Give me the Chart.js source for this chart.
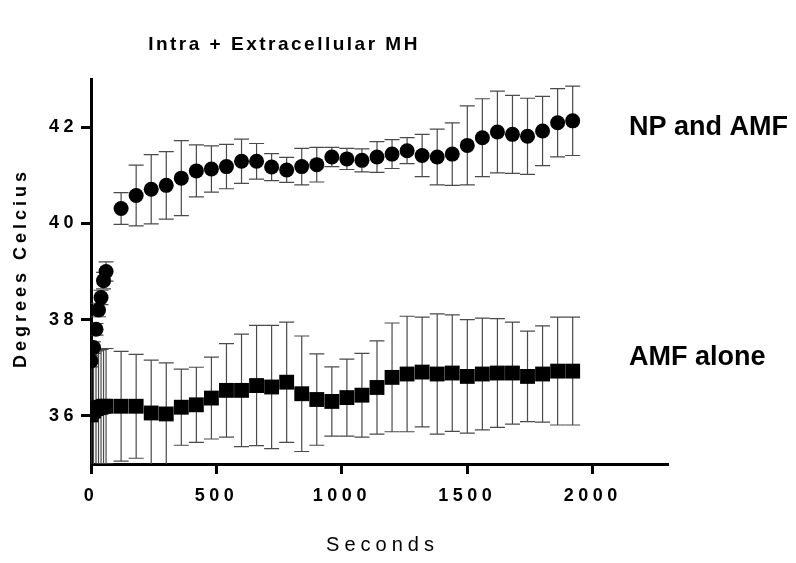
<!DOCTYPE html>
<html>
<head>
<meta charset="utf-8">
<script src="https://cdn.jsdelivr.net/npm/chart.js@4.4.1/dist/chart.umd.min.js"></script>
<style>
  html, body { margin: 0; padding: 0; background: #fff; }
</style>
</head>
<body>
<canvas id="myChart" width="796" height="563"></canvas>
<script>
// time points (s), shared by both groups
var seconds = [0, 10, 20, 30, 40, 50, 60, 120, 180, 240, 300, 360, 420, 480, 540, 600,
  660, 720, 780, 840, 900, 960, 1020, 1080, 1140, 1200, 1260, 1320, 1380, 1440, 1500,
  1560, 1620, 1680, 1740, 1800, 1860, 1920];

// NP and AMF (circles)
var npMean = [37.14, 37.42, 37.80, 38.20, 38.46, 38.81, 39.00, 40.31, 40.58, 40.71, 40.79,
  40.94, 41.09, 41.13, 41.18, 41.29, 41.29, 41.17, 41.11, 41.18, 41.22, 41.38, 41.34,
  41.31, 41.38, 41.44, 41.51, 41.41, 41.38, 41.44, 41.62, 41.78, 41.90, 41.85, 41.81,
  41.92, 42.09, 42.13];
var npErr = [0.12, 0.12, 0.12, 0.14, 0.15, 0.17, 0.2, 0.33, 0.63, 0.72, 0.7, 0.78, 0.54,
  0.48, 0.46, 0.46, 0.37, 0.28, 0.26, 0.38, 0.36, 0.2, 0.22, 0.24, 0.32, 0.3, 0.27, 0.44,
  0.58, 0.65, 0.82, 0.81, 0.85, 0.81, 0.79, 0.72, 0.71, 0.72];

// AMF alone (squares)
var amfMean = [36.02, 36.10, 36.15, 36.17, 36.18, 36.20, 36.20, 36.20, 36.20, 36.06, 36.04,
  36.18, 36.23, 36.37, 36.53, 36.53, 36.63, 36.60, 36.70, 36.46, 36.34, 36.30, 36.38,
  36.43, 36.59, 36.80, 36.87, 36.91, 36.87, 36.89, 36.82, 36.87, 36.89, 36.89, 36.82,
  36.87, 36.93, 36.93];
var amfErr = [1.2, 1.2, 1.2, 1.2, 1.2, 1.2, 1.2, 1.14, 1.08, 1.1, 1.06, 0.79, 0.78, 0.85,
  0.97, 1.17, 1.25, 1.28, 1.25, 1.2, 0.95, 0.72, 0.8, 0.87, 0.97, 1.13, 1.2, 1.14, 1.25,
  1.21, 1.18, 1.16, 1.13, 1.06, 0.94, 1.0, 1.12, 1.12];

var xTicks = [0, 500, 1000, 1500, 2000];
var yTicks = [36, 38, 40, 42];

function toPoints(xs, ys) {
  return xs.map(function (x, i) { return { x: x, y: ys[i] }; });
}

var errorBars = {
  id: 'errorBars',
  beforeDatasetsDraw: function (chart) {
    var c = chart.ctx, a = chart.chartArea;
    var xs = chart.scales.x, ys = chart.scales.y;
    c.save();
    c.beginPath();
    c.rect(a.left, a.top, a.right - a.left, a.bottom - a.top);
    c.clip();
    c.strokeStyle = '#4a4a4a';
    c.lineWidth = 1.2;
    chart.data.datasets.forEach(function (ds) {
      ds.data.forEach(function (p, i) {
        var x = xs.getPixelForValue(p.x);
        var hi = ys.getPixelForValue(p.y + ds.err[i]);
        var lo = ys.getPixelForValue(p.y - ds.err[i]);
        c.beginPath();
        c.moveTo(x, hi); c.lineTo(x, lo);
        c.moveTo(x - 7.5, hi); c.lineTo(x + 7.5, hi);
        c.moveTo(x - 7.5, lo); c.lineTo(x + 7.5, lo);
        c.stroke();
      });
    });
    c.restore();
  }
};

var labels = {
  id: 'labels',
  beforeUpdate: function (chart) { chart.ctx.letterSpacing = '4.5px'; },
  beforeDraw: function (chart) { chart.ctx.letterSpacing = '4.5px'; },
  afterDraw: function (chart) {
    var c = chart.ctx, a = chart.chartArea;
    c.save();
    c.fillStyle = '#000';
    c.textBaseline = 'middle';
    c.textAlign = 'center';

    c.letterSpacing = '2.5px';
    c.font = 'bold 19px "Liberation Sans"';
    c.fillText('Intra + Extracellular MH', 284, 45);

    c.letterSpacing = '5px';
    c.font = '20px "Liberation Sans"';
    c.fillText('Seconds', (a.left + a.right) / 2 + 3, 545);

    c.save();
    c.translate(21, 268);
    c.rotate(-Math.PI / 2);
    c.letterSpacing = '4px';
    c.font = 'bold 18px "Liberation Sans"';
    c.fillText('Degrees Celcius', 0, 0);
    c.restore();

    c.letterSpacing = '0px';
    c.textAlign = 'left';
    c.font = 'bold 27px "Liberation Sans"';
    c.fillText('NP and AMF', 629, 128);
    c.fillText('AMF alone', 629, 358);
    c.restore();
  }
};

var tickFont = { family: 'Liberation Sans', size: 18, weight: 'bold' };

var ctx = document.getElementById('myChart').getContext('2d');
var myChart = new Chart(ctx, {
  type: 'scatter',
  data: {
    datasets: [{
      label: 'NP and AMF',
      data: toPoints(seconds, npMean),
      err: npErr,
      pointStyle: 'circle',
      pointRadius: 7.5,
      pointHoverRadius: 7.5,
      backgroundColor: '#000',
      borderColor: '#000',
      borderWidth: 0
    }, {
      label: 'AMF alone',
      data: toPoints(seconds, amfMean),
      err: amfErr,
      pointStyle: 'rect',
      pointRadius: 10.5,
      pointHoverRadius: 10.5,
      backgroundColor: '#000',
      borderColor: '#000',
      borderWidth: 0
    }]
  },
  options: {
    responsive: false,
    animation: false,
    layout: { padding: { left: 0, top: 79, right: 128, bottom: 0 } },
    plugins: { legend: { display: false }, tooltip: { enabled: false } },
    scales: {
      x: {
        type: 'linear',
        min: 0,
        max: 2300,
        afterFit: function (s) { s.height = 99; },
        afterBuildTicks: function (s) { s.ticks = xTicks.map(function (v) { return { value: v }; }); },
        border: { display: true, color: '#000', width: 3 },
        grid: { drawOnChartArea: false, drawTicks: true, tickLength: 10, tickWidth: 3, tickColor: '#000' },
        ticks: {
          color: '#000',
          padding: 11,
          maxRotation: 0,
          font: tickFont,
          callback: function (v) { return String(v); }
        }
      },
      y: {
        min: 35,
        max: 43,
        afterFit: function (s) { s.width = 91; },
        afterBuildTicks: function (s) { s.ticks = yTicks.map(function (v) { return { value: v }; }); },
        border: { display: true, color: '#000', width: 3 },
        grid: { drawOnChartArea: false, drawTicks: true, tickLength: 10, tickWidth: 3, tickColor: '#000' },
        ticks: {
          color: '#000',
          padding: 3,
          font: tickFont,
          callback: function (v) { return String(v); }
        }
      }
    }
  },
  plugins: [errorBars, labels]
});
</script>
</body>
</html>
